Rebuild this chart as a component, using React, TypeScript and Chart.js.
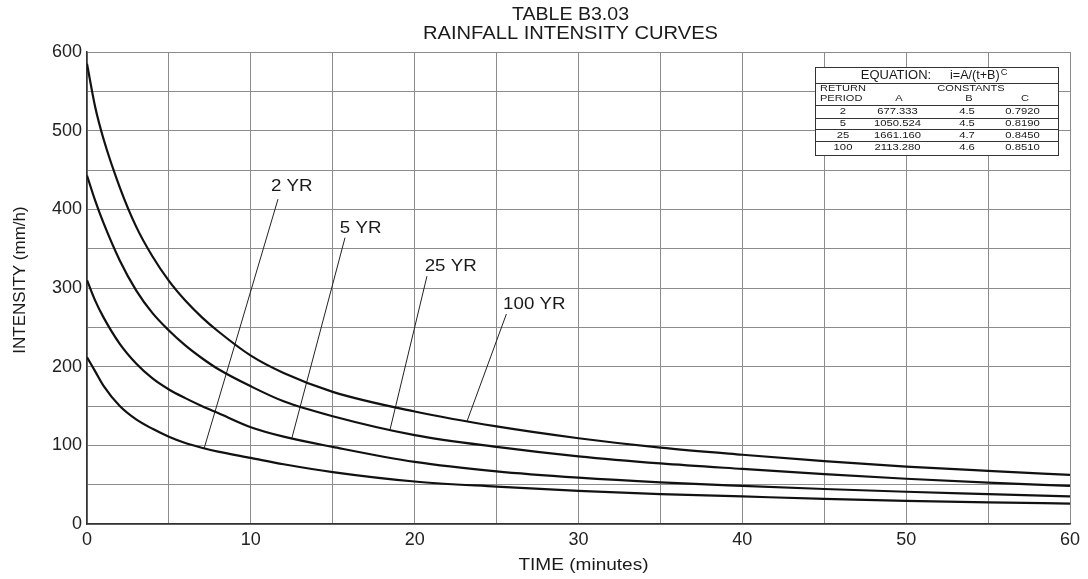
import React, { useEffect, useRef } from 'react';
import { Chart, registerables } from 'chart.js';

Chart.register(...registerables);

// ---------- data ----------
const timeMinutes = [0, 0.5, 1, 2, 3, 4, 5, 6, 7, 8, 10, 12, 15, 20, 25, 30, 35, 40, 45, 50, 55, 60];
const intensity2yr = [212, 194, 176, 150, 133, 121, 111, 103, 97, 92, 84, 76, 66, 54, 47.5, 42, 38, 35, 32, 29.5, 27.5, 26];
const intensity5yr = [310, 284, 263, 229, 204, 185, 171, 160, 150, 141, 123, 111, 98, 79, 67, 59, 53, 48.5, 44.5, 41, 38, 35];
const intensity25yr = [443, 411, 383, 335, 297, 268, 246, 227, 211, 197, 175, 156, 137, 113, 98, 86, 77, 70, 63.5, 57.5, 52.5, 48.5];
const intensity100yr = [585, 530, 490, 428, 378, 340, 309, 284, 263, 245, 214, 192, 168, 143, 124, 109, 97, 88, 80, 73, 67.5, 62.5];

const curveLabels = ['2 YR', '5 YR', '25 YR', '100 YR'];
const labelTime = [12.5, 16.7, 22.2, 27.3];
const labelIntensity = [429, 376, 328, 279];
const leaderStartTime = [11.66, 15.75, 20.75, 25.6];
const leaderStartIntensity = [413, 364, 315, 267];
const leaderEndTime = [7.15, 12.5, 18.5, 23.2];

const titleLines = ['TABLE B3.03', 'RAINFALL INTENSITY CURVES'];
const xAxisTitle = 'TIME (minutes)';
const yAxisTitle = 'INTENSITY (mm/h)';

const tablePeriods = ['2', '5', '25', '100'];
const tableA = ['677.333', '1050.524', '1661.160', '2113.280'];
const tableB = ['4.5', '4.5', '4.7', '4.6'];
const tableC = ['0.7920', '0.8190', '0.8450', '0.8510'];

const allSeries = [intensity2yr, intensity5yr, intensity25yr, intensity100yr];

function interp(series: number[], t: number): number {
  for (let i = 0; i < timeMinutes.length - 1; i++) {
    const t0 = timeMinutes[i];
    const t1 = timeMinutes[i + 1];
    if (t >= t0 && t <= t1) {
      const f = (t - t0) / (t1 - t0);
      return series[i] + f * (series[i + 1] - series[i]);
    }
  }
  return series[series.length - 1];
}

const FONT = '"Liberation Sans", Arial, Helvetica, sans-serif';

function stretchedText(
  ctx: CanvasRenderingContext2D,
  text: string,
  x: number,
  y: number,
  size: number,
  align: CanvasTextAlign,
  sx: number
) {
  ctx.save();
  ctx.translate(x, y);
  ctx.scale(sx, 1);
  ctx.font = `${size}px ${FONT}`;
  ctx.textAlign = align;
  ctx.textBaseline = 'middle';
  ctx.fillText(text, 0, 0);
  ctx.restore();
}

const decorPlugin = {
  id: 'decor',
  afterDraw(chart: any) {
    const ctx: CanvasRenderingContext2D = chart.ctx;
    const { chartArea, scales } = chart;
    const xs = scales.x;
    const ys = scales.y;
    ctx.save();
    ctx.fillStyle = '#1a1a1a';

    // title
    const cx = (chartArea.left + chartArea.right) / 2 - 8;
    stretchedText(ctx, titleLines[0], cx, 15, 19, 'center', 1.03);
    stretchedText(ctx, titleLines[1], cx, 34, 19, 'center', 1.06);

    // axis titles
    stretchedText(ctx, xAxisTitle, cx + 13, 565, 17, 'center', 1.12);
    ctx.save();
    ctx.translate(20, 280);
    ctx.rotate(-Math.PI / 2);
    ctx.font = `17px ${FONT}`;
    ctx.textAlign = 'center';
    ctx.textBaseline = 'middle';
    ctx.fillText(yAxisTitle, 0, 0);
    ctx.restore();

    // curve labels
    for (let i = 0; i < curveLabels.length; i++) {
      stretchedText(
        ctx,
        curveLabels[i],
        xs.getPixelForValue(labelTime[i]),
        ys.getPixelForValue(labelIntensity[i]),
        17,
        'center',
        1.1
      );
    }

    // constants table
    const boxL = chartArea.right - 255;
    const boxR = chartArea.right - 12;
    const boxT = chartArea.top + 15;
    const boxB = chartArea.top + 103;
    ctx.fillStyle = '#ffffff';
    ctx.fillRect(boxL, boxT, boxR - boxL, boxB - boxT);
    ctx.strokeStyle = '#333';
    ctx.lineWidth = 1;
    ctx.strokeRect(boxL + 0.5, boxT + 0.5, boxR - boxL, boxB - boxT);
    const hLines = [16.3, 38, 50.7, 62.3, 74];
    ctx.beginPath();
    for (const dy of hLines) {
      ctx.moveTo(boxL, Math.round(boxT + dy) + 0.5);
      ctx.lineTo(boxR, Math.round(boxT + dy) + 0.5);
    }
    ctx.stroke();

    ctx.fillStyle = '#1a1a1a';
    stretchedText(ctx, 'EQUATION:', boxL + 81, boxT + 9, 12, 'center', 1.08);
    stretchedText(ctx, 'i=A/(t+B)', boxL + 135, boxT + 9, 12, 'left', 1.05);
    ctx.save();
    ctx.font = `12px ${FONT}`;
    const eqW = ctx.measureText('i=A/(t+B)').width * 1.05;
    ctx.restore();
    stretchedText(ctx, 'C', boxL + 136 + eqW, boxT + 6, 8.5, 'left', 1.1);

    stretchedText(ctx, 'RETURN', boxL + 5, boxT + 22, 8.5, 'left', 1.3);
    stretchedText(ctx, 'PERIOD', boxL + 5, boxT + 31.3, 8.5, 'left', 1.3);
    stretchedText(ctx, 'CONSTANTS', boxL + 156, boxT + 22, 8.5, 'center', 1.3);
    stretchedText(ctx, 'A', boxL + 84, boxT + 31.3, 8.5, 'center', 1.3);
    stretchedText(ctx, 'B', boxL + 154, boxT + 31.3, 8.5, 'center', 1.3);
    stretchedText(ctx, 'C', boxL + 210, boxT + 31.3, 8.5, 'center', 1.3);

    const rowY = [45, 56.8, 68.4, 80.2];
    for (let i = 0; i < tablePeriods.length; i++) {
      const y = boxT + rowY[i];
      stretchedText(ctx, tablePeriods[i], boxL + 28, y, 9, 'center', 1.25);
      stretchedText(ctx, tableA[i], boxL + 82.5, y, 9, 'center', 1.25);
      stretchedText(ctx, tableB[i], boxL + 152, y, 9, 'center', 1.25);
      stretchedText(ctx, tableC[i], boxL + 207.5, y, 9, 'center', 1.25);
    }
    ctx.restore();
  },
};

export default function App() {
  const canvasRef = useRef<HTMLCanvasElement | null>(null);

  useEffect(() => {
    if (!canvasRef.current) return;

    const curveDatasets = allSeries.map((series, i) => ({
      label: curveLabels[i],
      data: timeMinutes.map((t, j) => ({ x: t, y: series[j] })),
      borderColor: '#111',
      borderWidth: 2.2,
      pointRadius: 0,
      fill: false,
      cubicInterpolationMode: 'monotone' as const,
    }));

    const leaderDatasets = allSeries.map((series, i) => ({
      label: curveLabels[i] + ' leader',
      data: [
        { x: leaderStartTime[i], y: leaderStartIntensity[i] },
        { x: leaderEndTime[i], y: interp(series, leaderEndTime[i]) },
      ],
      borderColor: '#222',
      borderWidth: 1,
      pointRadius: 0,
      fill: false,
      tension: 0,
    }));

    const chart = new Chart(canvasRef.current, {
      type: 'line',
      data: { datasets: [...curveDatasets, ...leaderDatasets] as any },
      options: {
        responsive: false,
        animation: false,
        layout: { padding: { top: 52, right: 18, left: 0, bottom: 0 } },
        plugins: {
          legend: { display: false },
          tooltip: { enabled: false },
          title: { display: false },
        },
        scales: {
          x: {
            type: 'linear',
            min: 0,
            max: 60,
            afterFit: (s: any) => {
              s.height = 55;
            },
            ticks: {
              stepSize: 5,
              autoSkip: false,
              maxRotation: 0,
              padding: 5,
              color: '#222',
              font: { size: 18, family: FONT },
              callback: (v: any) => (Number(v) % 10 === 0 ? String(v) : ''),
            },
            grid: { color: '#8c8c8c', lineWidth: 1, drawTicks: false },
            border: { color: '#333', width: 1.5 },
          },
          y: {
            type: 'linear',
            min: 0,
            max: 600,
            afterFit: (s: any) => {
              s.width = 87;
            },
            ticks: {
              stepSize: 50,
              autoSkip: false,
              padding: 5,
              color: '#222',
              font: { size: 18, family: FONT },
              callback: (v: any) => (Number(v) % 100 === 0 ? String(v) : ''),
            },
            grid: { color: '#8c8c8c', lineWidth: 1, drawTicks: false },
            border: { color: '#333', width: 1.5 },
          },
        },
      },
      plugins: [decorPlugin],
    });

    return () => {
      chart.destroy();
    };
  }, []);

  return (
    <div style={{ position: 'fixed', left: 0, top: 0, width: 1088, height: 579, background: '#fff' }}>
      <canvas ref={canvasRef} width={1088} height={579} style={{ display: 'block' }} />
    </div>
  );
}
